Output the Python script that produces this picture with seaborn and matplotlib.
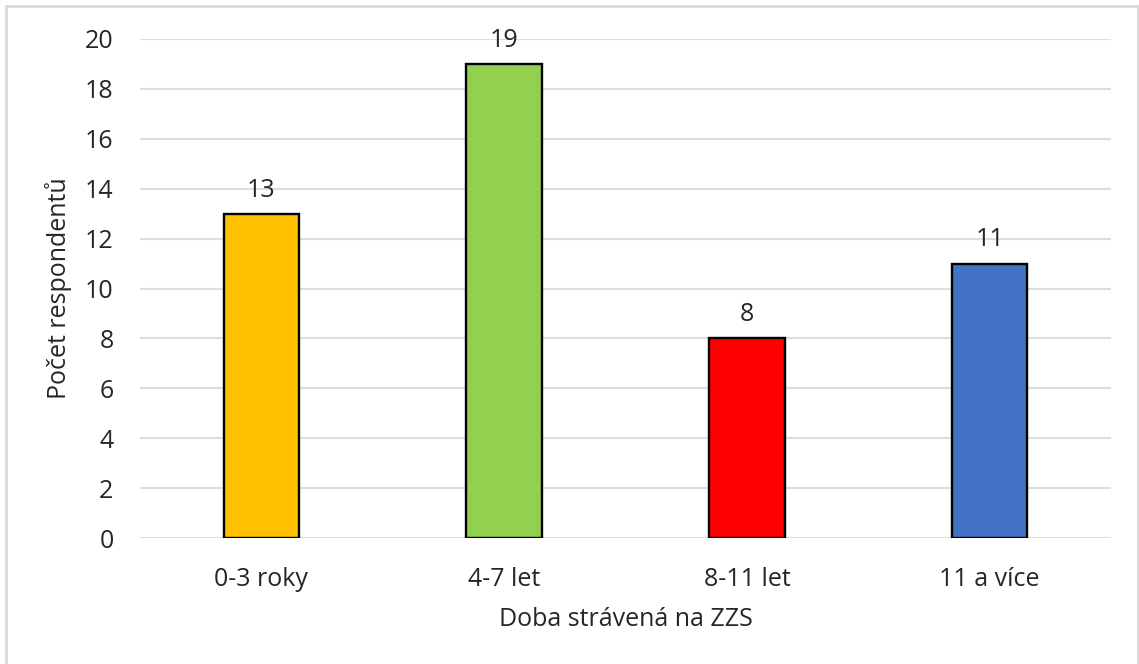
import matplotlib
matplotlib.use("Agg")
import matplotlib.pyplot as plt
import seaborn as sns
import pandas as pd
from matplotlib.patches import Rectangle

kategorie = ["0-3 roky", "4-7 let", "8-11 let", "11 a více"]
pocty = [13, 19, 8, 11]
barvy = ["#FFC000", "#92D050", "#FF0000", "#4472C4"]
y_ticks = [0, 2, 4, 6, 8, 10, 12, 14, 16, 18, 20]

data = pd.DataFrame({"doba": kategorie, "pocet": pocty})

sns.set_style("white")
plt.rcParams["font.family"] = ["Open Sans", "DejaVu Sans"]

fig = plt.figure(figsize=(11.39, 6.64), dpi=100)
ax = fig.add_axes([140 / 1139, 1 - 538 / 664, 971 / 1139, 499 / 664])

sns.barplot(data=data, x="doba", y="pocet", hue="doba", palette=barvy,
            saturation=1, width=0.31, edgecolor="black", linewidth=1.7,
            legend=False, ax=ax)

# popisky hodnot nad sloupci
for kontejner in ax.containers:
    ax.bar_label(kontejner, fontsize=18, padding=8)

ax.set_ylim(0, 20)
ax.set_yticks(y_ticks)
ax.yaxis.grid(True, color="#dddddd", linewidth=1.5)
ax.set_axisbelow(True)
for s in ax.spines.values():
    s.set_visible(False)
ax.tick_params(axis="both", length=0, labelsize=18)
ax.tick_params(axis="y", pad=19)
ax.tick_params(axis="x", pad=21)
ax.set_xlabel("Doba strávená na ZZS", fontsize=18, labelpad=11)
ax.set_ylabel("Počet respondentů", fontsize=18, labelpad=9)

# rámeček kolem celého grafu
fig.patches.append(Rectangle((6 / 1139, -0.05), 1132 / 1139, 1.05 - 6 / 664,
                             transform=fig.transFigure, fill=False,
                             edgecolor="#d9d9d9", linewidth=2))

fig.savefig("out.png", dpi=100)
